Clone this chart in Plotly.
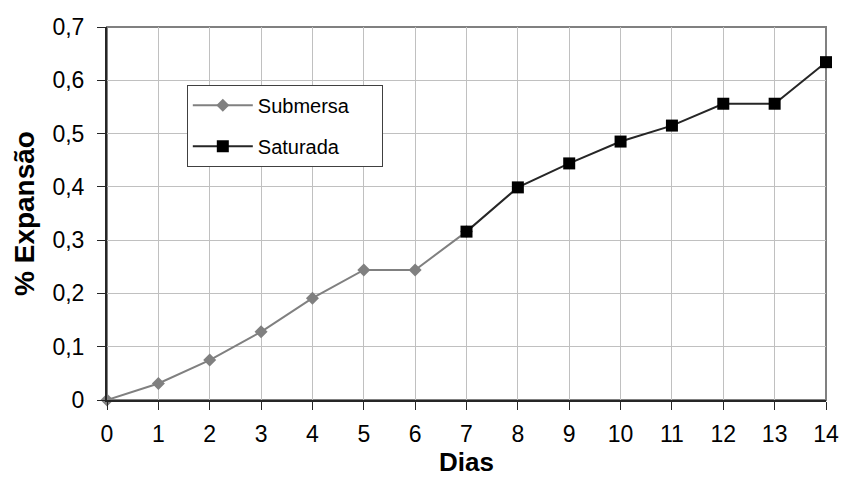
import plotly.graph_objects as go

# Expansion (%) per day for the two curing conditions
dias_submersa = [0, 1, 2, 3, 4, 5, 6, 7]
submersa = [0, 0.031, 0.075, 0.128, 0.191, 0.244, 0.244, 0.316]

dias_saturada = [7, 8, 9, 10, 11, 12, 13, 14]
saturada = [0.316, 0.399, 0.444, 0.485, 0.515, 0.556, 0.556, 0.634]

x_ticks = list(range(0, 15))
y_ticks = [0, 0.1, 0.2, 0.3, 0.4, 0.5, 0.6, 0.7]
y_tick_text = ["0", "0,1", "0,2", "0,3", "0,4", "0,5", "0,6", "0,7"]

FONT = "Liberation Sans, Arial, sans-serif"
PAD = "&nbsp;" * 5

fig = go.Figure()
fig.add_trace(go.Scatter(
    x=dias_submersa, y=submersa, name="Submersa" + PAD, mode="lines+markers",
    line=dict(color="#808080", width=2),
    marker=dict(symbol="diamond", size=10, color="#808080"),
    cliponaxis=False, legendgroup="a",
))
fig.add_trace(go.Scatter(
    x=dias_saturada, y=saturada, name="Saturada" + PAD, mode="lines+markers",
    line=dict(color="#262626", width=2),
    marker=dict(symbol="square", size=12, color="#000000"),
    cliponaxis=False, legendgroup="b",
))

# light frame around the plotting area (top and right edges)
fig.add_shape(type="rect", xref="x domain", yref="y domain",
              x0=0, x1=1, y0=0, y1=1,
              line=dict(color="#808080", width=2), layer="below")

fig.update_layout(
    width=851, height=480,
    margin=dict(l=107, r=16, t=27, b=79),
    paper_bgcolor="white", plot_bgcolor="white",
    font=dict(family=FONT, size=23, color="#000000"),
    showlegend=True,
    legend=dict(
        x=0.111, y=0.845, xanchor="left", yanchor="top",
        bgcolor="white", bordercolor="#404040", borderwidth=1,
        font=dict(size=20), traceorder="grouped", tracegroupgap=12,
        itemwidth=60,
    ),
    xaxis=dict(
        range=[0, 14], tickvals=x_ticks, ticktext=[str(v) for v in x_ticks],
        showgrid=True, gridcolor="#c0c0c0", gridwidth=1,
        showline=True, linecolor="#262626", linewidth=2,
        ticks="outside", ticklen=8, tickcolor="#262626", tickwidth=1,
        ticklabelstandoff=4, zeroline=False,
        title=dict(text="<b>Dias</b>", font=dict(size=26), standoff=3),
    ),
    yaxis=dict(
        range=[0, 0.7], tickvals=y_ticks, ticktext=y_tick_text,
        showgrid=True, gridcolor="#c0c0c0", gridwidth=1,
        showline=True, linecolor="#262626", linewidth=2,
        ticks="outside", ticklen=8, tickcolor="#262626", tickwidth=1,
        ticklabelstandoff=8, zeroline=False,
        title=dict(text="<b>% Expansão</b>", font=dict(size=28), standoff=10),
    ),
)

fig.write_html("out.html")
